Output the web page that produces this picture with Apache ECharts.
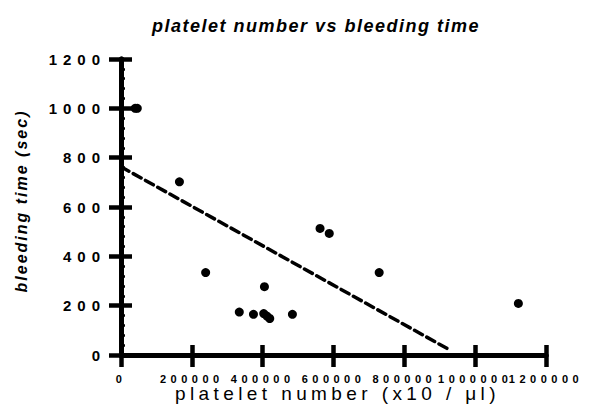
<!DOCTYPE html>
<html>
<head>
<meta charset="utf-8">
<script src="https://cdn.jsdelivr.net/npm/echarts@6/dist/echarts.min.js"></script>
<style>
  html, body { margin: 0; padding: 0; background: #fff; }
  #chart { width: 592px; height: 410px; }
  /* the scanned figure uses widely tracked type, svg text lets css space it */
  #chart text[style*="18px"] { letter-spacing: 1.5px; }  /* title */
  #chart text[style*="15px"] { letter-spacing: 6px; }    /* y tick labels */
  #chart text[style*="11px"] { letter-spacing: 4.5px; }  /* x tick labels */
  #chart text[style*="19px"] { letter-spacing: 4.4px; }  /* x name */
  #chart text[style*="16px"] { letter-spacing: 2px; }    /* y name */
</style>
</head>
<body>
<div id="chart"></div>
<script>
// platelet count vs bleeding time
const plateletCount = [40000, 46000, 165000, 239000, 334000, 374000, 403000, 405000, 412000, 420000, 484000, 562000, 588000, 729000, 1122000];
const bleedingTime = [1000, 1000, 702, 334, 174, 165, 168, 277, 158, 148, 165, 513, 493, 334, 209];

// regression line end points
const fitX = [0, 930000];
const fitY = [763, 19];

const xTicks = [0, 200000, 400000, 600000, 800000, 1000000, 1200000];
const yTicks = [0, 200, 400, 600, 800, 1000, 1200];

const font = 'Liberation Sans, Arial, sans-serif';
const black = '#000';

const points = plateletCount.map((x, i) => [x, bleedingTime[i]]);
const fit = fitX.map((x, i) => [x, fitY[i]]);

// no thousand separators on the ticks
const plain = v => String(v);

const xBase = {
  type: 'value',
  position: 'bottom',
  min: xTicks[0],
  max: xTicks[xTicks.length - 1],
  interval: xTicks[1] - xTicks[0],
  splitLine: { show: false },
  axisLine: { show: true, lineStyle: { color: black, width: 5 } }
};
const yBase = {
  type: 'value',
  position: 'left',
  min: yTicks[0],
  max: yTicks[yTicks.length - 1],
  interval: yTicks[1] - yTicks[0],
  splitLine: { show: false },
  axisLine: { show: true, lineStyle: { color: black, width: 5 } }
};

const chart = echarts.init(document.getElementById('chart'), null, { renderer: 'svg' });

chart.setOption({
  animation: false,
  backgroundColor: '#fff',
  title: {
    text: 'platelet number vs bleeding time',
    left: 147,
    top: 12,
    textStyle: { fontFamily: font, fontSize: 18, fontStyle: 'italic', fontWeight: 'bold', color: black }
  },
  grid: { left: 121, right: 46, top: 59, bottom: 55, containLabel: false, outerBoundsMode: 'none' },
  xAxis: [
    Object.assign({}, xBase, {
      name: 'platelet number (x10 / μl)',
      nameLocation: 'middle',
      nameGap: 29,
      nameMoveOverlap: false,
      nameTextStyle: { fontFamily: font, fontSize: 19, color: black, padding: [0, 0, 0, 8] },
      axisTick: { show: true, inside: false, length: 12, lineStyle: { color: black, width: 4.5 } },
      axisLabel: { margin: 18, fontFamily: font, fontSize: 11, fontWeight: 'bold', color: black, formatter: plain }
    }),
    Object.assign({}, xBase, {
      axisTick: { show: true, inside: true, length: 10, lineStyle: { color: black, width: 4.5 } },
      axisLabel: { show: false }
    })
  ],
  yAxis: [
    Object.assign({}, yBase, {
      name: 'bleeding time (sec)',
      nameLocation: 'middle',
      nameGap: 92,
      nameMoveOverlap: false,
      nameTextStyle: { fontFamily: font, fontSize: 16, fontStyle: 'italic', fontWeight: 'bold', color: black, padding: [0, 0, 0, 12] },
      axisTick: { show: true, inside: false, length: 12, lineStyle: { color: black, width: 4.5 } },
      axisLabel: { margin: 15, fontFamily: font, fontSize: 15, fontWeight: 'bold', color: black, formatter: plain }
    }),
    Object.assign({}, yBase, {
      axisTick: { show: true, inside: true, length: 11, lineStyle: { color: black, width: 4.5 } },
      minorTick: { show: true, splitNumber: 5, length: 4, lineStyle: { color: black, width: 2.5 } },
      axisLabel: { show: false }
    })
  ],
  series: [
    {
      type: 'line',
      data: fit,
      showSymbol: false,
      silent: true,
      z: 1,
      lineStyle: { color: black, width: 3.5, type: [9, 5], cap: 'round' }
    },
    {
      type: 'scatter',
      data: points,
      symbol: 'circle',
      symbolSize: 9,
      z: 2,
      itemStyle: { color: black, opacity: 1 }
    }
  ]
});
</script>
</body>
</html>
